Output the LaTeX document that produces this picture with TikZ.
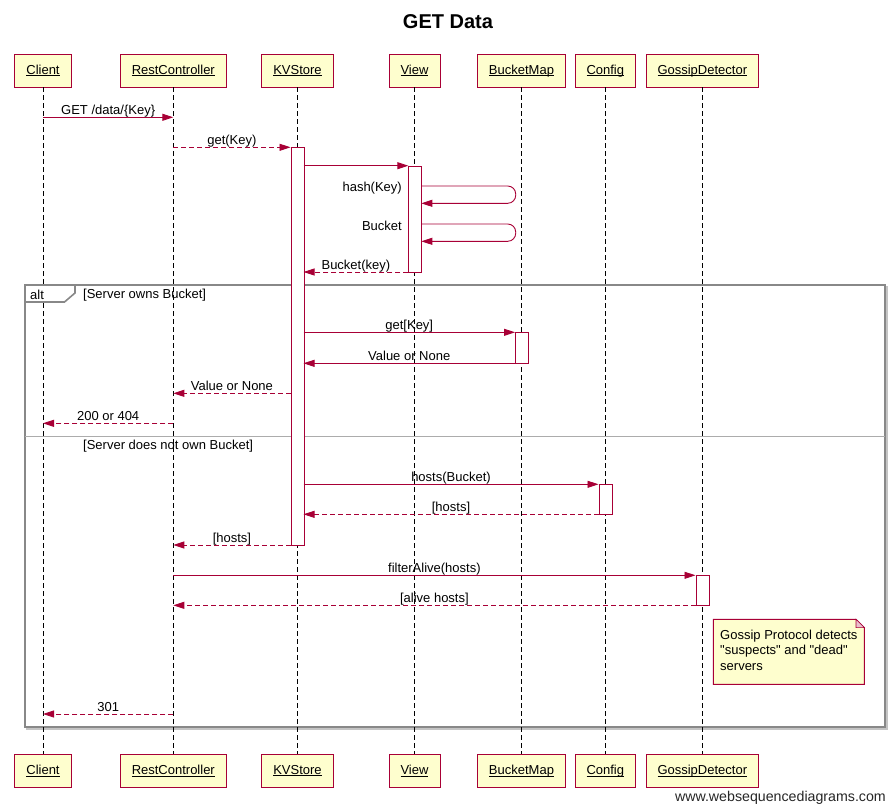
\documentclass[tikz,border=0pt]{standalone}
\usepackage{fontspec}
\setmainfont{Liberation Sans}
\usetikzlibrary{arrows.meta}
\definecolor{rose}{RGB}{168,0,54}
\definecolor{pale}{RGB}{254,254,206}
\definecolor{framegray}{RGB}{136,136,136}
\newcommand{\uname}[1]{\underline{\raisebox{0pt}[\height][0pt]{#1}}}
\begin{document}
\begin{tikzpicture}[x=1pt, y=-1pt,
	font=\fontsize{13}{15.5}\selectfont,
	actor/.style={draw=rose, fill=pale, line width=0.9pt, minimum height=33pt, inner xsep=11.5pt},
	life/.style={black, dash pattern=on 5pt off 3pt, line width=0.8pt},
	act/.style={draw=rose, fill=white, line width=0.9pt},
	msg/.style={rose, line width=0.9pt, -{Triangle[length=11pt, width=7pt]}},
	ret/.style={msg, dash pattern=on 5pt off 3pt},
	lbl/.style={anchor=base, yshift=2.5pt, inner sep=0pt, text=black}]
	\fill [white] (0,0) rectangle (895,811);
	\node [font=\fontsize{20}{24}\selectfont\bfseries] (title) at (448,22) {GET Data};
	% participants
	\node [actor] (client) at (43,70.5)  {\uname{Client}};
	\node [actor] (rest)   at (173.3,70.5) {\uname{RestController}};
	\node [actor] (kv)     at (297.5,70.5) {\uname{KVStore}};
	\node [actor] (view)   at (414.5,70.5) {\uname{View}};
	\node [actor] (bmap)   at (521.5,70.5) {\uname{BucketMap}};
	\node [actor] (config) at (605.3,70.5) {\uname{Config}};
	\node [actor] (gossip) at (702.3,70.5) {\uname{GossipDetector}};
	\node [actor] (clientB) at (43,770.7)  {\uname{Client}};
	\node [actor] (restB)   at (173.3,770.7) {\uname{RestController}};
	\node [actor] (kvB)     at (297.5,770.7) {\uname{KVStore}};
	\node [actor] (viewB)   at (414.5,770.7) {\uname{View}};
	\node [actor] (bmapB)   at (521.5,770.7) {\uname{BucketMap}};
	\node [actor] (configB) at (605.3,770.7) {\uname{Config}};
	\node [actor] (gossipB) at (702.3,770.7) {\uname{GossipDetector}};
	% alt frame
	\draw [framegray!50, line width=2pt] (27,287) rectangle (887,729);
	\draw [framegray, line width=1.6pt, fill=white] (25,285) rectangle (885,727);
	\draw [framegray!70, line width=0.8pt] (25,436.7) -- (885,436.7);
	\foreach \p in {client, rest, kv, view, bmap, config, gossip}
		\draw [life] (\p) -- (\p B);
	\draw [framegray, line width=1.6pt, fill=white] (25,285) -- (25,302) -- (64.5,302) -- (75,293) -- (75,285) -- cycle;
	\node [anchor=west, inner sep=0pt] (alt) at (30,295) {alt};
	\node [anchor=west, inner sep=0pt] (g1) at (83,295) {[Server owns Bucket]};
	\node [anchor=west, inner sep=0pt] (g2) at (83,445.7) {[Server does not own Bucket]};
	% activations
	\node [act, anchor=north west, minimum width=13pt, minimum height=397.7pt, inner sep=0pt] (kvA) at (290.5,147.3) {};
	\node [act, anchor=north west, minimum width=13pt, minimum height=106.3pt, inner sep=0pt] (viewA) at (408.3,165.7) {};
	\node [act, anchor=north west, minimum width=12.5pt, minimum height=31pt, inner sep=0pt] (bmapA) at (515,332.3) {};
	\node [act, anchor=north west, minimum width=13pt, minimum height=30pt, inner sep=0pt] (configA) at (598.5,484.3) {};
	\node [act, anchor=north west, minimum width=13pt, minimum height=30pt, inner sep=0pt] (gossipA) at (695.5,575.3) {};
	% message ends
	\coordinate (m1a) at (43,117.3);    \coordinate (m1b) at (173.3,117.3);
	\coordinate (m2a) at (173.3,147.3); \coordinate (m2b) at (290.5,147.3);
	\coordinate (m3a) at (303.5,165.7); \coordinate (m3b) at (408.3,165.7);
	\coordinate (m4a) at (421.3,186);   \coordinate (m4b) at (421.3,203.3);
	\coordinate (m5a) at (421.3,224);   \coordinate (m5b) at (421.3,241.3);
	\coordinate (m6a) at (408.3,272);   \coordinate (m6b) at (303.5,272);
	\coordinate (m7a) at (303.5,332.3); \coordinate (m7b) at (515,332.3);
	\coordinate (m8a) at (515,363.3);   \coordinate (m8b) at (303.5,363.3);
	\coordinate (m9a) at (290.5,393.3); \coordinate (m9b) at (173.3,393.3);
	\coordinate (m10a) at (173.3,423.3); \coordinate (m10b) at (43,423.3);
	\coordinate (m11a) at (303.5,484.3); \coordinate (m11b) at (598.5,484.3);
	\coordinate (m12a) at (598.5,514.3); \coordinate (m12b) at (303.5,514.3);
	\coordinate (m13a) at (290.5,545);   \coordinate (m13b) at (173.3,545);
	\coordinate (m14a) at (173.3,575.3); \coordinate (m14b) at (695.5,575.3);
	\coordinate (m15a) at (695.5,605.3); \coordinate (m15b) at (173.3,605.3);
	\coordinate (m16a) at (173.3,714);   \coordinate (m16b) at (43,714);
	% messages
	\draw [msg] (m1a) -- node [lbl] {GET /data/\{Key\}} (m1b);
	\draw [ret] (m2a) -- node [lbl] {get(Key)} (m2b);
	\draw [msg] (m3a) -- (m3b);
	\draw [msg, rounded corners=8pt] (m4a) -- (515.7,186) -- (515.7,203.3) -- (m4b);
	\node [anchor=east, inner sep=0pt] (hash) at (402,188) {hash(Key)};
	\draw [msg, rounded corners=8pt] (m5a) -- (515.7,224) -- (515.7,241.3) -- (m5b);
	\node [anchor=east, inner sep=0pt] (bucket) at (402,225.5) {Bucket};
	\draw [ret] (m6a) -- node [lbl] {Bucket(key)} (m6b);
	\draw [msg] (m7a) -- node [lbl] {get[Key]} (m7b);
	\draw [msg] (m8a) -- node [lbl] {Value or None} (m8b);
	\draw [ret] (m9a) -- node [lbl] {Value or None} (m9b);
	\draw [ret] (m10a) -- node [lbl] {200 or 404} (m10b);
	\draw [msg] (m11a) -- node [lbl] {hosts(Bucket)} (m11b);
	\draw [ret] (m12a) -- node [lbl] {[hosts]} (m12b);
	\draw [ret] (m13a) -- node [lbl] {[hosts]} (m13b);
	\draw [msg] (m14a) -- node [lbl] {filterAlive(hosts)} (m14b);
	\draw [ret] (m15a) -- node [lbl] {[alive hosts]} (m15b);
	\draw [ret] (m16a) -- node [lbl] {301} (m16b);
	% note
	\draw [rose, fill=pale, line width=0.9pt] (713.3,619.3) -- (856,619.3) -- (864.3,627.6) -- (864.3,684.3) -- (713.3,684.3) -- cycle;
	\draw [rose, fill=rose!25, line width=0.6pt] (856,619.3) -- (856,627.6) -- (864.3,627.6) -- cycle;
	\node [anchor=north west, align=left, inner sep=0pt] (note) at (720,629.5)
		{Gossip Protocol detects\\\textquotedbl suspects\textquotedbl{} and \textquotedbl dead\textquotedbl\\servers};
	\node [anchor=base east, inner sep=0pt, font=\fontsize{14.2}{17}\selectfont, text=black!85] (site) at (886,801) {www.websequencediagrams.com};
\end{tikzpicture}
\end{document}
